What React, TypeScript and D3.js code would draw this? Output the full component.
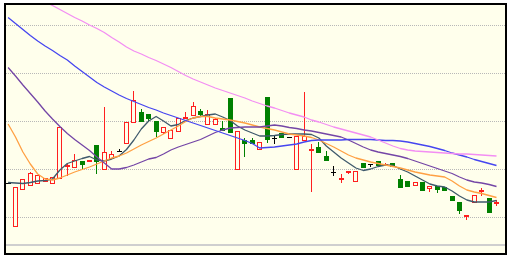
import React from "react";
import * as d3 from "d3";

// candles, index -1 .. 65
const opens = [11.42, 10.99, 11.36, 11.40, 11.42, 11.44, 11.42, 11.47, 11.59, 11.58, 11.64, 11.64, 11.80, 11.56, 11.67, 11.74, 11.82, 12.03, 12.13, 12.11, 12.04, 11.93, 11.87, 11.94, 12.07, 12.10, 12.14, 12.01, 12.01, 11.97, 12.27, 11.56, 11.85, 11.85, 11.76, 12.28, 11.87, 11.92, 11.88, 11.56, 11.85, 11.75, 11.78, 11.69, 11.53, 11.46, 11.53, 11.44, 11.62, 11.61, 11.64, 11.60, 11.62, 11.46, 11.44, 11.40, 11.43, 11.37, 11.39, 11.38, 11.29, 11.23, 11.09, 11.23, 11.34, 11.27, 11.22];
const highs = [11.42, 11.38, 11.46, 11.53, 11.50, 11.47, 11.48, 11.98, 11.62, 11.71, 11.64, 11.65, 11.80, 12.18, 11.74, 11.76, 12.03, 12.34, 12.16, 12.11, 12.04, 11.98, 11.95, 12.07, 12.13, 12.23, 12.16, 12.15, 12.07, 12.04, 12.27, 11.94, 11.87, 11.87, 11.83, 12.28, 11.89, 11.92, 11.88, 11.89, 12.33, 11.81, 11.83, 11.74, 11.59, 11.51, 11.54, 11.54, 11.62, 11.61, 11.64, 11.62, 11.62, 11.50, 11.44, 11.43, 11.43, 11.39, 11.39, 11.38, 11.29, 11.23, 11.10, 11.30, 11.37, 11.27, 11.25];
const lows = [11.42, 10.99, 11.36, 11.40, 11.42, 11.44, 11.42, 11.47, 11.49, 11.58, 11.56, 11.64, 11.51, 11.56, 11.67, 11.74, 11.82, 12.03, 12.03, 12.03, 11.88, 11.91, 11.87, 11.94, 12.07, 12.10, 12.08, 12.01, 12.01, 11.94, 11.92, 11.56, 11.68, 11.81, 11.76, 11.82, 11.81, 11.87, 11.88, 11.56, 11.85, 11.33, 11.72, 11.64, 11.49, 11.42, 11.51, 11.44, 11.57, 11.58, 11.59, 11.60, 11.58, 11.37, 11.38, 11.40, 11.34, 11.33, 11.32, 11.34, 11.24, 11.11, 11.05, 11.23, 11.29, 11.12, 11.19];
const closes = [11.42, 11.38, 11.46, 11.52, 11.50, 11.47, 11.48, 11.98, 11.60, 11.65, 11.60, 11.65, 11.63, 11.73, 11.71, 11.74, 12.03, 12.25, 12.03, 12.06, 11.93, 11.98, 11.95, 12.07, 12.08, 12.19, 12.10, 12.11, 12.06, 11.94, 11.92, 11.94, 11.81, 11.81, 11.83, 11.85, 11.87, 11.87, 11.88, 11.89, 11.89, 11.76, 11.72, 11.64, 11.53, 11.47, 11.54, 11.54, 11.57, 11.61, 11.59, 11.61, 11.58, 11.37, 11.38, 11.43, 11.34, 11.39, 11.35, 11.34, 11.24, 11.14, 11.10, 11.30, 11.35, 11.12, 11.23];

// moving averages, index -1 .. 65
const ma5 = [11.425, 11.42, 11.415, 11.425, 11.44, 11.445, 11.46, 11.55, 11.615, 11.64, 11.665, 11.685, 11.65, 11.64, 11.66, 11.69, 11.755, 11.85, 11.96, 12.04, 12.085, 12.04, 11.99, 12.005, 12.045, 12.07, 12.085, 12.10, 12.11, 12.08, 12.045, 11.99, 11.95, 11.92, 11.89, 11.89, 11.895, 11.905, 11.91, 11.91, 11.91, 11.905, 11.87, 11.79, 11.73, 11.67, 11.62, 11.57, 11.545, 11.56, 11.585, 11.60, 11.595, 11.56, 11.53, 11.49, 11.45, 11.41, 11.39, 11.38, 11.34, 11.29, 11.25, 11.23, 11.23, 11.23, 11.245];
const ma10 = [12.01, 11.88, 11.73, 11.61, 11.51, 11.46, 11.45, 11.47, 11.50, 11.53, 11.555, 11.58, 11.61, 11.64, 11.67, 11.69, 11.72, 11.76, 11.80, 11.835, 11.87, 11.91, 11.95, 11.99, 12.035, 12.07, 12.085, 12.085, 12.07, 12.06, 12.05, 12.035, 12.02, 12.00, 11.98, 11.965, 11.95, 11.93, 11.91, 11.90, 11.89, 11.875, 11.85, 11.815, 11.78, 11.74, 11.70, 11.67, 11.65, 11.63, 11.615, 11.60, 11.585, 11.57, 11.55, 11.53, 11.515, 11.50, 11.49, 11.48, 11.44, 11.39, 11.35, 11.33, 11.315, 11.295, 11.275];
const ma20 = [12.575, 12.49, 12.40, 12.315, 12.23, 12.14, 12.06, 11.985, 11.915, 11.855, 11.80, 11.745, 11.68, 11.62, 11.56, 11.56, 11.575, 11.60, 11.63, 11.66, 11.675, 11.71, 11.75, 11.78, 11.805, 11.83, 11.855, 11.89, 11.925, 11.95, 11.97, 11.975, 11.98, 11.98, 11.98, 11.99, 12.00, 11.99, 11.975, 11.965, 11.95, 11.94, 11.925, 11.91, 11.895, 11.88, 11.85, 11.815, 11.78, 11.75, 11.73, 11.715, 11.70, 11.685, 11.665, 11.64, 11.615, 11.59, 11.565, 11.54, 11.515, 11.48, 11.45, 11.43, 11.42, 11.405, 11.385];
const ma30 = [13.075, 13.015, 12.955, 12.895, 12.84, 12.79, 12.745, 12.695, 12.65, 12.59, 12.535, 12.48, 12.425, 12.38, 12.34, 12.30, 12.265, 12.235, 12.205, 12.175, 12.15, 12.12, 12.095, 12.07, 12.045, 12.02, 11.995, 11.97, 11.945, 11.92, 11.895, 11.87, 11.845, 11.815, 11.77, 11.775, 11.78, 11.79, 11.80, 11.81, 11.83, 11.845, 11.85, 11.85, 11.85, 11.85, 11.855, 11.855, 11.855, 11.855, 11.85, 11.845, 11.845, 11.84, 11.83, 11.815, 11.80, 11.785, 11.765, 11.745, 11.72, 11.70, 11.68, 11.655, 11.635, 11.615, 11.595];
const ma60 = [13.45, 13.40, 13.36, 13.31, 13.27, 13.23, 13.195, 13.155, 13.115, 13.075, 13.04, 13.00, 12.965, 12.925, 12.875, 12.83, 12.78, 12.74, 12.71, 12.675, 12.645, 12.61, 12.575, 12.535, 12.495, 12.46, 12.43, 12.40, 12.37, 12.345, 12.32, 12.295, 12.27, 12.24, 12.215, 12.19, 12.17, 12.145, 12.12, 12.10, 12.08, 12.05, 12.03, 12.005, 11.98, 11.96, 11.94, 11.92, 11.90, 11.88, 11.85, 11.82, 11.79, 11.765, 11.75, 11.74, 11.735, 11.73, 11.725, 11.72, 11.715, 11.71, 11.71, 11.705, 11.70, 11.695, 11.69];

const gridLevels = [13.0, 12.52, 12.04, 11.56, 11.08];

const maSeries = [
  { name: "MA5", values: ma5, color: "#3f5a6c" },
  { name: "MA10", values: ma10, color: "#ffa043" },
  { name: "MA20", values: ma20, color: "#7446a6" },
  { name: "MA30", values: ma30, color: "#4646f0" },
  { name: "MA60", values: ma60, color: "#f38ef3" },
];

const RED = "#ff1f1f";
const GREEN = "#008000";
const BG = "#ffffec";

export default function App() {
  const W = 511;
  const H = 261;
  const firstIdx = -1;
  const x = d3.scaleLinear().domain([-1, 65]).range([8.1, 496.5]);
  const y = d3.scaleLinear().domain([10.8, 13.22]).range([245, 3]);

  const line = d3
    .line<number>()
    .x((_, i) => x(i + firstIdx))
    .y((d) => y(d))
    .curve(d3.curveLinear);

  const candles = opens.map((o, k) => {
    const i = k + firstIdx;
    const c = closes[k];
    const h = highs[k];
    const l = lows[k];
    const cx = Math.floor(x(i)) + 0.5;
    const yTop = y(Math.max(o, c));
    const yBot = y(Math.min(o, c));
    const yH = y(h);
    const yL = y(l);
    if (c > o) {
      const t = Math.round(yTop) + 0.5;
      const b = Math.max(Math.round(yBot) + 0.5, t + 1);
      return (
        <g key={k}>
          {yH < t - 0.5 && <line x1={cx} x2={cx} y1={yH} y2={t} stroke={RED} strokeWidth={1} />}
          {yL > b + 0.5 && <line x1={cx} x2={cx} y1={b} y2={yL} stroke={RED} strokeWidth={1} />}
          <rect x={cx - 2} y={t} width={4} height={b - t} fill={BG} stroke={RED} strokeWidth={1} />
        </g>
      );
    } else if (c < o) {
      const t = Math.round(yTop);
      const b = Math.max(Math.round(yBot), t + 1);
      return (
        <g key={k}>
          <line x1={cx} x2={cx} y1={yH} y2={yL} stroke={GREEN} strokeWidth={1} />
          <rect x={cx - 2.5} y={t} width={5} height={b - t} fill={GREEN} />
        </g>
      );
    } else {
      const t = Math.round(yTop) + 0.5;
      return (
        <g key={k}>
          <line x1={cx} x2={cx} y1={Math.min(yH, t - 0.5)} y2={Math.max(yL, t + 0.5)} stroke="#000" strokeWidth={1} />
          <line x1={cx - 2.5} x2={cx + 2.5} y1={t} y2={t} stroke="#000" strokeWidth={1} />
        </g>
      );
    }
  });

  return (
    <svg
      width={W}
      height={H}
      style={{ position: "fixed", left: 0, top: 0, display: "block" }}
    >
      <defs>
        <clipPath id="plot">
          <rect x={5} y={4} width={501} height={250} />
        </clipPath>
      </defs>
      <rect x={0} y={0} width={W} height={H} fill="#ffffff" />
      <rect x={5} y={4} width={501} height={250} fill={BG} />
      {gridLevels.map((g) => (
        <line
          key={g}
          x1={6}
          x2={505}
          y1={Math.round(y(g)) + 0.5}
          y2={Math.round(y(g)) + 0.5}
          stroke="#b8b8b8"
          strokeWidth={1}
          strokeDasharray="1 1"
        />
      ))}
      <line x1={5} x2={506} y1={245} y2={245} stroke="#cfcfcf" strokeWidth={2} />
      <g clipPath="url(#plot)">
        {candles}
        {maSeries.map((s) => (
          <path
            key={s.name}
            d={line(s.values) || ""}
            fill="none"
            stroke={s.color}
            strokeWidth={1.3}
            strokeLinejoin="round"
          />
        ))}
      </g>
      <rect x={5} y={4} width={501} height={250} fill="none" stroke="#000" strokeWidth={2} />
    </svg>
  );
}
